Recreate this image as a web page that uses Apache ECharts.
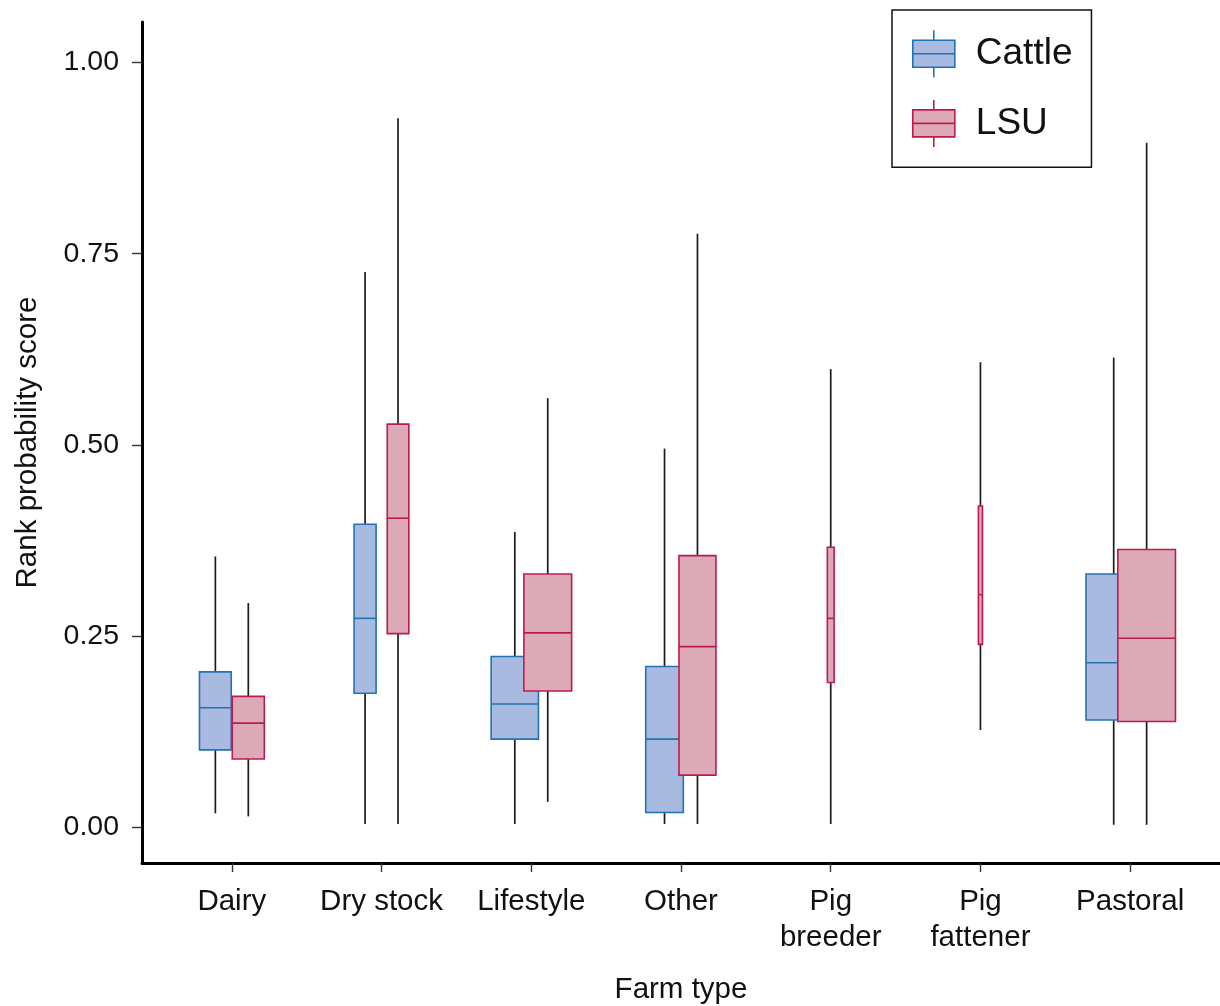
<!DOCTYPE html>
<html>
<head>
<meta charset="utf-8">
<script src="https://cdn.jsdelivr.net/npm/echarts@6/dist/echarts.min.js"></script>
<style>
  html, body { margin: 0; padding: 0; background: #ffffff; }
  #chart { width: 1220px; height: 1006px; }
</style>
</head>
<body>
<div id="chart"></div>
<script>
// ---- Data ----
const categories = ['Dairy', 'Dry stock', 'Lifestyle', 'Other', 'Pig\nbreeder', 'Pig\nfattener', 'Pastoral'];
const seriesNames = ['Cattle', 'LSU'];

// [min, Q1, median, Q3, max]; null = no box for that farm type
const cattleStats = [
  [0.018, 0.101, 0.156, 0.203, 0.354],
  [0.004, 0.175, 0.273, 0.396, 0.726],
  [0.004, 0.115, 0.161, 0.223, 0.386],
  [0.004, 0.019, 0.115, 0.210, 0.495],
  null,
  null,
  [0.003, 0.140, 0.215, 0.331, 0.614]
];
const lsuStats = [
  [0.014, 0.089, 0.136, 0.171, 0.293],
  [0.004, 0.253, 0.404, 0.527, 0.927],
  [0.033, 0.178, 0.254, 0.331, 0.561],
  [0.004, 0.068, 0.236, 0.355, 0.776],
  [0.004, 0.189, 0.273, 0.366, 0.599],
  [0.127, 0.239, 0.304, 0.420, 0.608],
  [0.003, 0.138, 0.247, 0.363, 0.895]
];
// relative box widths (variable-width boxes, in category units)
const cattleWidths = [0.212, 0.147, 0.316, 0.251, 0, 0, 0.370];
const lsuWidths = [0.214, 0.144, 0.319, 0.247, 0.045, 0.027, 0.385];

const yTicks = [0, 0.25, 0.5, 0.75, 1.0];
const xTicks = categories.map((c, i) => i + 1);

// ---- Styles ----
const FONT = "'Liberation Sans', Arial, Helvetica, sans-serif";
const styles = {
  Cattle: { fill: '#A9BAE0', stroke: '#2272B4' },
  LSU: { fill: '#DCAAB7', stroke: '#BE1A4E' }
};
const DODGE = 0.11;

function buildData(stats, widths, otherStats) {
  const out = [];
  stats.forEach((s, i) => {
    if (!s) return;
    const both = stats[i] && otherStats[i];
    out.push({ s: s, i: i, w: widths[i], both: !!both });
  });
  return out;
}

function makeSeries(name, stats, widths, otherStats, sign) {
  const st = styles[name];
  const items = buildData(stats, widths, otherStats).map(d => {
    const x = d.i + 1 + (d.both ? sign * DODGE : 0);
    return [x, d.s[0], d.s[1], d.s[2], d.s[3], d.s[4], d.w];
  });
  return {
    name: name,
    type: 'custom',
    data: items,
    encode: { x: 0, y: [1, 2, 3, 4, 5] },
    itemStyle: { color: st.fill, borderColor: st.stroke },
    renderItem: function (params, api) {
      const x = api.value(0), w = api.value(6);
      const cx = api.coord([x, 0])[0];
      const left = api.coord([x - w / 2, 0])[0];
      const right = api.coord([x + w / 2, 0])[0];
      const yLow = api.coord([x, api.value(1)])[1];
      const yQ1 = api.coord([x, api.value(2)])[1];
      const yMed = api.coord([x, api.value(3)])[1];
      const yQ3 = api.coord([x, api.value(4)])[1];
      const yHigh = api.coord([x, api.value(5)])[1];
      const wStyle = { stroke: '#1c1c1c', lineWidth: 1.7 };
      return {
        type: 'group',
        children: [
          { type: 'line', shape: { x1: cx, y1: yQ3, x2: cx, y2: yHigh }, style: wStyle },
          { type: 'line', shape: { x1: cx, y1: yQ1, x2: cx, y2: yLow }, style: wStyle },
          { type: 'rect', shape: { x: left, y: yQ3, width: right - left, height: yQ1 - yQ3 },
            style: { fill: st.fill, stroke: st.stroke, lineWidth: 1.6 } },
          { type: 'line', shape: { x1: left, y1: yMed, x2: right, y2: yMed },
            style: { stroke: st.stroke, lineWidth: 1.6 } }
        ]
      };
    }
  };
}

const legendIcon = 'path://M0,10 L42,10 L42,37 L0,37 Z M0,23.5 L42,23.5 M21,0 L21,10 M21,37 L21,47';

const chart = echarts.init(document.getElementById('chart'), null, { renderer: 'canvas' });
chart.setOption({
  backgroundColor: '#ffffff',
  animation: false,
  textStyle: { fontFamily: FONT },
  grid: { left: 142, right: 0, top: 22, bottom: 143, containLabel: false, outerBoundsMode: 'none' },
  legend: {
    orient: 'vertical',
    left: 892,
    top: 10,
    padding: [19.5, 19, 19.5, 20],
    itemWidth: 42,
    itemHeight: 47,
    itemGap: 21,
    borderColor: '#111',
    borderWidth: 1.5,
    selectedMode: false,
    formatter: '{t|{name}}',
    textStyle: {
      rich: { t: { fontSize: 37, fontFamily: FONT, color: '#111', padding: [0, 0, 0, 16] } }
    },
    data: seriesNames.map(n => ({
      name: n,
      icon: legendIcon,
      itemStyle: { color: styles[n].fill, borderColor: styles[n].stroke, borderWidth: 1.6 }
    }))
  },
  xAxis: {
    type: 'value',
    min: 0.4,
    max: 7.6,
    name: 'Farm type',
    nameLocation: 'middle',
    nameGap: 112,
    nameTextStyle: { fontSize: 29.5, fontFamily: FONT, color: '#111' },
    axisLine: { show: true, onZero: false, lineStyle: { color: '#000', width: 3 } },
    axisTick: { show: true, length: 9, customValues: xTicks, lineStyle: { color: '#333', width: 1.4 } },
    axisLabel: {
      customValues: xTicks,
      margin: 21,
      fontSize: 29.5,
      lineHeight: 36,
      fontFamily: FONT,
      color: '#111',
      formatter: v => categories[Math.round(v) - 1] || ''
    },
    splitLine: { show: false }
  },
  yAxis: {
    type: 'value',
    min: -0.047,
    max: 1.053,
    name: 'Rank probability score',
    nameLocation: 'middle',
    nameGap: 99,
    nameTextStyle: { fontSize: 29.5, fontFamily: FONT, color: '#111' },
    axisLine: { show: true, onZero: false, lineStyle: { color: '#000', width: 3 } },
    axisTick: { show: true, length: 10, customValues: yTicks, lineStyle: { color: '#333', width: 1.4 } },
    axisLabel: {
      customValues: yTicks,
      margin: 23,
      fontSize: 28.5,
      fontFamily: FONT,
      color: '#111',
      formatter: v => v.toFixed(2)
    },
    splitLine: { show: false }
  },
  series: [
    makeSeries('Cattle', cattleStats, cattleWidths, lsuStats, -1),
    makeSeries('LSU', lsuStats, lsuWidths, cattleStats, 1)
  ]
});
</script>
</body>
</html>
